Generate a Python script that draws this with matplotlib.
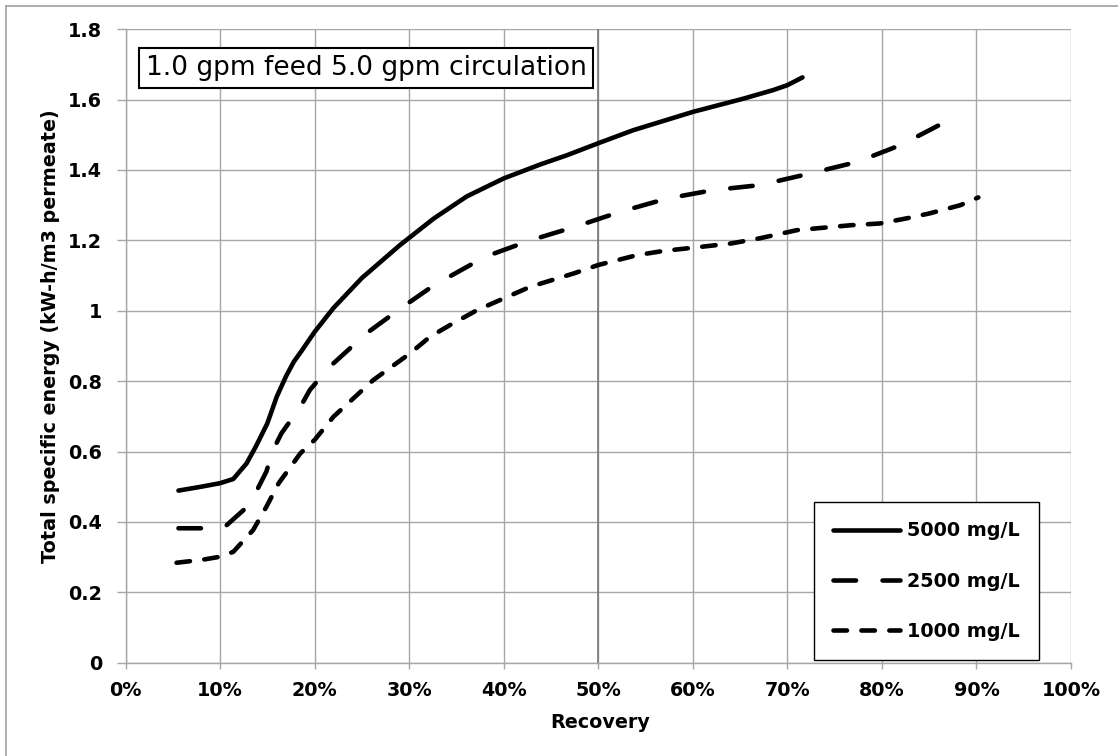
import matplotlib
matplotlib.use("Agg")
import matplotlib.pyplot as plt
from matplotlib.lines import Line2D
from matplotlib.ticker import FuncFormatter

# ---- data (recovery in %, energy in kW-h/m3 permeate) ----
rec_5000 = [5.6, 8.0, 10.0, 11.4, 12.8, 13.8, 15.0, 16.0, 17.0, 17.8, 18.6, 20.0, 22.0,
            25.0, 29.0, 32.6, 36.1, 40.0, 43.9, 46.7, 50.0, 53.7, 60.0, 65.4, 68.5,
            70.0, 71.6]
e_5000 = [0.489, 0.500, 0.510, 0.522, 0.566, 0.615, 0.680, 0.756, 0.815, 0.855, 0.885,
          0.940, 1.008, 1.093, 1.186, 1.262, 1.325, 1.376, 1.416, 1.442, 1.476, 1.513,
          1.565, 1.603, 1.627, 1.641, 1.663]

rec_2500 = [5.6, 8.0, 10.5, 12.5, 13.9, 14.9, 15.6, 16.5, 18.5, 19.5, 21.6, 25.5, 29.0,
            32.6, 38.0, 42.8, 47.6, 52.3, 57.3, 62.2, 67.1, 72.4, 77.4, 82.0, 87.1]
e_2500 = [0.382, 0.382, 0.386, 0.434, 0.490, 0.543, 0.604, 0.652, 0.727, 0.775, 0.841,
          0.936, 1.005, 1.072, 1.153, 1.200, 1.239, 1.281, 1.319, 1.343, 1.357, 1.390,
          1.423, 1.471, 1.542]

rec_1000 = [5.4, 8.0, 10.0, 11.4, 13.5, 14.9, 16.2, 18.5, 20.0, 22.0, 26.2, 30.1, 32.2,
            34.3, 37.2, 40.0, 42.8, 47.4, 50.0, 54.1, 56.9, 60.0, 64.0, 67.1, 71.0, 76.7,
            79.8, 82.7, 85.1, 88.3, 90.2]
e_1000 = [0.284, 0.292, 0.301, 0.315, 0.377, 0.443, 0.510, 0.595, 0.633, 0.699, 0.803,
          0.879, 0.926, 0.959, 1.002, 1.035, 1.068, 1.106, 1.130, 1.158, 1.170, 1.179,
          1.191, 1.206, 1.229, 1.243, 1.248, 1.263, 1.277, 1.300, 1.322]

series_labels = ["5000 mg/L", "2500 mg/L", "1000 mg/L"]
x_ticks = [0, 10, 20, 30, 40, 50, 60, 70, 80, 90, 100]
y_ticks = [0, 0.2, 0.4, 0.6, 0.8, 1.0, 1.2, 1.4, 1.6, 1.8]
title_text = "1.0 gpm feed 5.0 gpm circulation"
x_label = "Recovery"
y_label = "Total specific energy (kW-h/m3 permeate)"

plt.rcParams['font.family'] = ['DejaVu Sans']
plt.rcParams['lines.scale_dashes'] = False

W, H = 1118, 756
fig = plt.figure(figsize=(W / 100, H / 100), dpi=100)
fig.patch.set_facecolor('white')

x0, x1 = 125.5, 1071.0
y0, y1 = 662.7, 29.2
ax = fig.add_axes([x0 / W, 1 - y0 / H, (x1 - x0) / W, (y0 - y1) / H])

grid_c = '#a6a6a6'
ax.set_xlim(0, 100)
ax.set_ylim(0, 1.8)
ax.set_xticks(x_ticks)
ax.set_yticks(y_ticks)
ax.xaxis.set_major_formatter(FuncFormatter(lambda v, p: f"{int(round(v))}%"))
ax.yaxis.set_major_formatter(FuncFormatter(lambda v, p: f"{v:g}"))
ax.grid(True, color=grid_c, linewidth=1.0, zorder=0)
ax.set_axisbelow(True)
for s in ['top', 'right']:
    ax.spines[s].set_visible(False)
for s in ['left', 'bottom']:
    ax.spines[s].set_color(grid_c)
    ax.spines[s].set_linewidth(1.0)
ax.tick_params(axis='y', direction='out', length=6.3, width=1.0, color=grid_c,
               pad=10.5, labelsize=13.8, labelcolor='black')
ax.tick_params(axis='x', direction='out', length=4.0, width=1.0, color=grid_c,
               pad=9.0, labelsize=13.8, labelcolor='black')
for lab in ax.get_xticklabels() + ax.get_yticklabels():
    lab.set_fontweight('bold')

ax.axvline(50, color='#7a7a7a', linewidth=1.2, zorder=1)

lw = 3.3
ax.plot(rec_5000, e_5000, color='black', linewidth=lw, solid_capstyle='round',
        solid_joinstyle='round', label=series_labels[0], zorder=3)
ax.plot(rec_2500, e_2500, color='black', linewidth=lw, dash_capstyle='round',
        dash_joinstyle='round', linestyle=(0, (16.2, 19.1)), label=series_labels[1],
        zorder=3)
ax.plot(rec_1000, e_1000, color='black', linewidth=lw, dash_capstyle='round',
        dash_joinstyle='round', linestyle=(0, (9.7, 10.4)), label=series_labels[2],
        zorder=3)

leg = ax.legend(loc='upper left', bbox_to_anchor=(814.3 / W, 1 - 502.3 / H),
                bbox_transform=fig.transFigure, borderaxespad=0, frameon=True,
                fancybox=False, edgecolor='black', framealpha=1,
                prop={'size': 13.8, 'weight': 'bold'}, handlelength=3.49,
                handletextpad=0.33, labelspacing=1.62, borderpad=1.0)
leg.get_frame().set_linewidth(1.0)

fig.text(366 / W, 1 - 68 / H, title_text, ha='center', va='center', fontsize=19,
         bbox=dict(boxstyle='square,pad=0.26', facecolor='white', edgecolor='black',
                   linewidth=1.5))

fig.text(600 / W, 1 - 722 / H, x_label, ha='center', va='center', fontsize=13.8,
         fontweight='bold')
fig.text(51 / W, 1 - 336 / H, y_label, ha='center', va='center', rotation=90,
         fontsize=13.8, fontweight='bold')

# outer chart frame (left and top edges visible)
fig.add_artist(Line2D([5.5 / W, 5.5 / W], [0, 1 - 5.7 / H], transform=fig.transFigure,
                      color='#a0a0a0', linewidth=1.2))
fig.add_artist(Line2D([5.5 / W, 1], [1 - 5.7 / H, 1 - 5.7 / H], transform=fig.transFigure,
                      color='#a0a0a0', linewidth=1.2))

fig.savefig('out.png', dpi=100, facecolor='white')
